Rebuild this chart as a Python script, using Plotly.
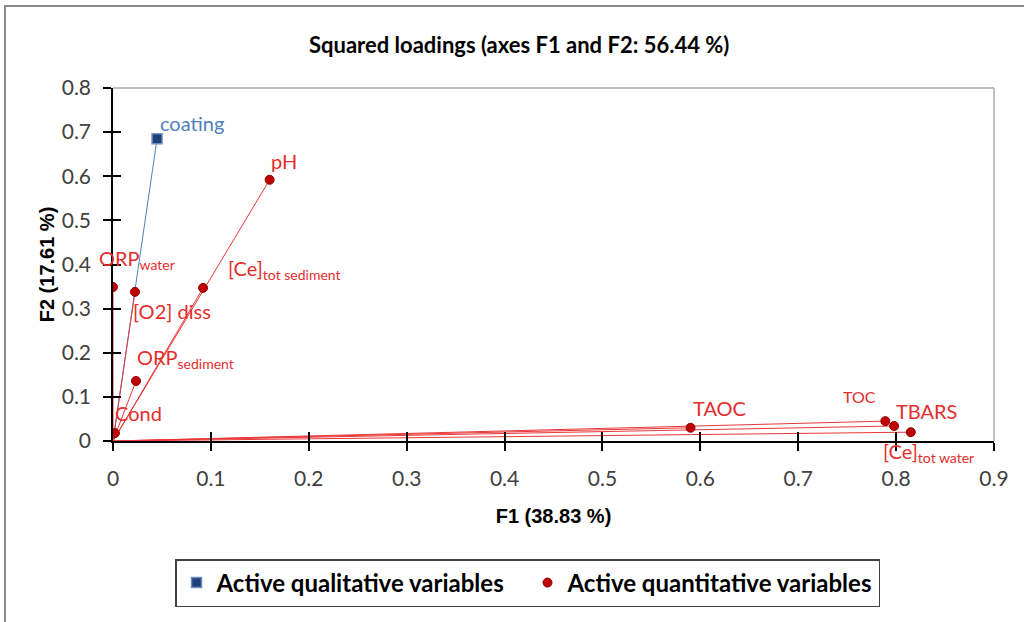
import plotly.graph_objects as go

# ---- data ----
qual_names = ["coating"]
qual_f1 = [0.045]
qual_f2 = [0.685]

quant_names = ["pH", "[Ce]tot sediment", "ORPwater", "[O2] diss", "ORPsediment", "Cond",
               "TAOC", "TOC", "TBARS", "[Ce]tot water"]
quant_labels = ["pH", "[Ce]<sub>tot sediment</sub>", "ORP<sub>water</sub>", "[O2] diss",
                "ORP<sub>sediment</sub>", "Cond", "TAOC", "TOC", "TBARS", "[Ce]<sub>tot water</sub>"]
quant_f1 = [0.160, 0.092, 0.000, 0.0225, 0.0235, 0.002, 0.590, 0.789, 0.798, 0.815]
quant_f2 = [0.592, 0.347, 0.349, 0.338, 0.136, 0.018, 0.030, 0.045, 0.034, 0.020]

x_ticks = [0, 0.1, 0.2, 0.3, 0.4, 0.5, 0.6, 0.7, 0.8, 0.9]
x_ticklabels = ["0", "0.1", "0.2", "0.3", "0.4", "0.5", "0.6", "0.7", "0.8", "0.9"]
y_ticks = [0, 0.1, 0.2, 0.3, 0.4, 0.5, 0.6, 0.7, 0.8]
y_ticklabels = ["0", "0.1", "0.2", "0.3", "0.4", "0.5", "0.6", "0.7", "0.8"]

# label offsets in pixels (style only)
qual_offsets = [(1, 16, 20)]
quant_offsets = [(-1, 19, 20), (23, 18, 20), (-16, 28, 20), (-4, -19, 20), (-1, 22, 20),
                 (-2, 20, 20), (0, 20, 20), (-44, 25, 16), (0, 15, 20), (-30, -20, 20)]

RED_LINE = "#e8383a"
RED_TEXT = "#e52d2d"
RED_MARK = "#c00000"
BLUE = "#4f81bd"
FONT = "Lato, 'Open Sans', sans-serif"
AFONT = "'Liberation Sans', Arial, sans-serif"

fig = go.Figure()

# lines from origin
for f1, f2 in zip(qual_f1, qual_f2):
    fig.add_trace(go.Scatter(x=[0, f1], y=[0, f2], mode="lines",
                             line=dict(color=BLUE, width=1), showlegend=False, hoverinfo="skip"))
for f1, f2 in zip(quant_f1, quant_f2):
    fig.add_trace(go.Scatter(x=[0, f1], y=[0, f2], mode="lines",
                             line=dict(color=RED_LINE, width=1), showlegend=False, hoverinfo="skip"))

fig.add_trace(go.Scatter(x=qual_f1, y=qual_f2, mode="markers", name="Active qualitative variables",
                         text=qual_names,
                         marker=dict(symbol="square", size=10, color="#1f3f7a",
                                     line=dict(color="#6f8fc0", width=1.5))))
fig.add_trace(go.Scatter(x=quant_f1, y=quant_f2, mode="markers", name="Active quantitative variables",
                         text=quant_names,
                         marker=dict(symbol="circle", size=9, color=RED_MARK,
                                     line=dict(color="#900000", width=1))))

annotations = []
for lab, f1, f2, (dx, dy, fs) in zip(qual_names, qual_f1, qual_f2, qual_offsets):
    annotations.append(dict(x=f1, y=f2, xref="x", yref="y", text=lab, showarrow=False,
                            xanchor="left", yanchor="middle", xshift=dx, yshift=dy,
                            font=dict(family=FONT, size=fs, color=BLUE)))
for lab, f1, f2, (dx, dy, fs) in zip(quant_labels, quant_f1, quant_f2, quant_offsets):
    annotations.append(dict(x=f1, y=f2, xref="x", yref="y", text=lab, showarrow=False,
                            xanchor="left", yanchor="middle", xshift=dx, yshift=dy,
                            font=dict(family=FONT, size=fs, color=RED_TEXT)))

fig.update_layout(
    width=1024, height=622,
    margin=dict(l=113, r=30, t=88, b=181),
    paper_bgcolor="white", plot_bgcolor="white",
    title=dict(text="<b>Squared loadings (axes F1 and F2: 56.44 %)</b>",
               x=0.507, xref="container", xanchor="center",
               y=1 - 45 / 622, yref="container", yanchor="middle",
               font=dict(family=FONT, size=22, color="black")),
    xaxis=dict(range=[0, 0.9], tickvals=x_ticks, ticktext=x_ticklabels,
               showgrid=False, zeroline=False, showline=True, linecolor="black", linewidth=1.5,
               ticks="outside", ticklen=8, tickcolor="black", tickwidth=1.5, ticklabelstandoff=10,
               tickfont=dict(family=FONT, size=21, color="#404040"),
               title=dict(text="<b>F1 (38.83 %)</b>", standoff=20,
                          font=dict(family=AFONT, size=20, color="black"))),
    yaxis=dict(range=[0, 0.8], tickvals=y_ticks, ticktext=y_ticklabels,
               showgrid=False, zeroline=False, showline=True, linecolor="black", linewidth=1.5,
               ticks="outside", ticklen=8, tickcolor="black", tickwidth=1.5, ticklabelstandoff=8,
               tickfont=dict(family=FONT, size=21, color="#404040"),
               title=dict(text="<b>F2 (17.61 %)</b>", standoff=2,
                          font=dict(family=AFONT, size=20, color="black"))),
    xaxis2=dict(range=[0, 0.9], tickvals=x_ticks, overlaying="x", matches="x",
                showticklabels=False, showgrid=False, zeroline=False, showline=False,
                ticks="inside", ticklen=9, tickcolor="black", tickwidth=1.5),
    yaxis2=dict(range=[0, 0.8], tickvals=y_ticks, overlaying="y", matches="y",
                showticklabels=False, showgrid=False, zeroline=False, showline=False,
                ticks="inside", ticklen=8, tickcolor="black", tickwidth=1.5),
    legend=dict(orientation="h", x=0.0704, xanchor="left", y=-118 / 353, yanchor="top",
                bordercolor="#404040", borderwidth=1.5, bgcolor="white",
                font=dict(family=FONT, size=24, color="black", weight="bold"),
                entrywidth=306, itemwidth=30, itemsizing="trace"),
    annotations=annotations,
    shapes=[
        dict(type="line", xref="paper", yref="paper", x0=0, x1=1, y0=1, y1=1,
             line=dict(color="#c0c0c0", width=2), layer="below"),
        dict(type="line", xref="paper", yref="paper", x0=1, x1=1, y0=0, y1=1,
             line=dict(color="#c0c0c0", width=2), layer="below"),
        dict(type="rect", xref="paper", yref="paper", x0=(5 - 113) / 881, x1=1.1,
             y0=-0.6, y1=(441 - 6) / 353, line=dict(color="#8a8a8a", width=2), layer="below"),
    ],
    showlegend=True,
)

# dummy trace to activate the overlay axes for cross ticks
fig.add_trace(go.Scatter(x=[None], y=[None], xaxis="x2", yaxis="y2", showlegend=False, hoverinfo="skip"))

fig.write_html("out.html")
